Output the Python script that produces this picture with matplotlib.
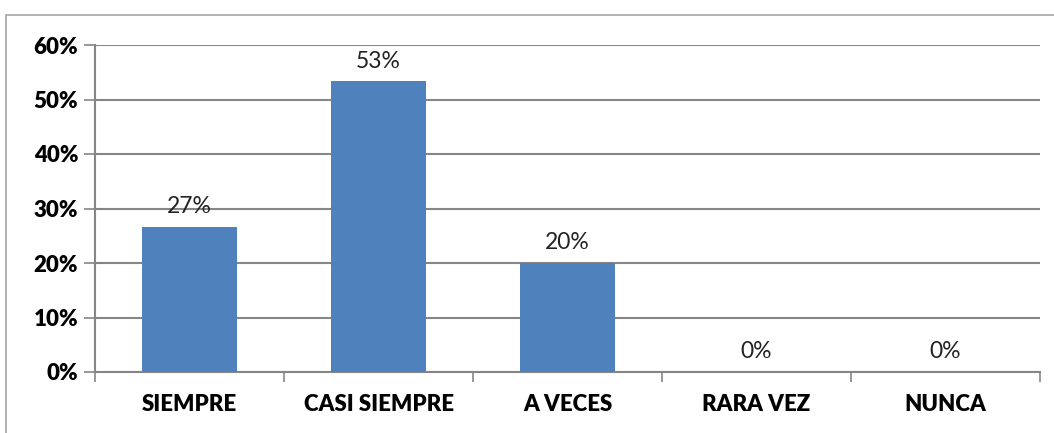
import matplotlib.pyplot as plt
from matplotlib.patches import Rectangle

categorias = ["SIEMPRE", "CASI SIEMPRE", "A VECES", "RARA VEZ", "NUNCA"]
porcentajes = [26.67, 53.33, 20.0, 0.0, 0.0]
etiquetas = ["27%", "53%", "20%", "0%", "0%"]
yticks = [0, 10, 20, 30, 40, 50, 60]

plt.rcParams['font.family'] = ['Lato', 'DejaVu Sans']

fig = plt.figure(figsize=(10.54, 4.33), dpi=100)
# chart frame (cropped at right and bottom)
fig.patches.append(Rectangle((6 / 1054, -0.1), 1.2, (433 - 15) / 433 + 0.1,
                             transform=fig.transFigure, fill=False,
                             edgecolor='#a6a6a6', linewidth=1.2))

ax = fig.add_axes([95 / 1054, (433 - 372) / 433, (1040 - 95) / 1054, (372 - 45) / 433])
x = list(range(len(categorias)))
ax.bar(x, porcentajes, width=0.5, color='#4f81bd', zorder=3)

for xi, v, lab in zip(x, porcentajes, etiquetas):
    ax.annotate(lab, (xi, v), xytext=(0, 7), textcoords='offset points',
                ha='center', va='bottom', fontsize=16.5, color='#222222')

ax.set_xlim(-0.5, len(categorias) - 0.5)
ax.set_ylim(0, 60)
ax.set_yticks(yticks)
ax.set_yticklabels([f"{t}%" for t in yticks], fontsize=16, fontweight='heavy')
ax.yaxis.grid(True, color='#868686', linewidth=1.5, zorder=0)

ax.set_xticks([i - 0.5 for i in range(len(categorias) + 1)])
ax.set_xticklabels([])
ax.set_xticks(x, minor=True)
ax.set_xticklabels(categorias, minor=True, fontsize=16, fontweight='heavy')
ax.tick_params(axis='x', which='minor', length=0, pad=16)
ax.tick_params(axis='x', which='major', length=7, color='#868686', width=1.2)
ax.tick_params(axis='y', length=8, color='#868686', width=1.2, pad=4)

for s in ['top', 'right']:
    ax.spines[s].set_visible(False)
for s in ['left', 'bottom']:
    ax.spines[s].set_color('#868686')
    ax.spines[s].set_linewidth(1.5)

fig.savefig("out.png", dpi=100)
